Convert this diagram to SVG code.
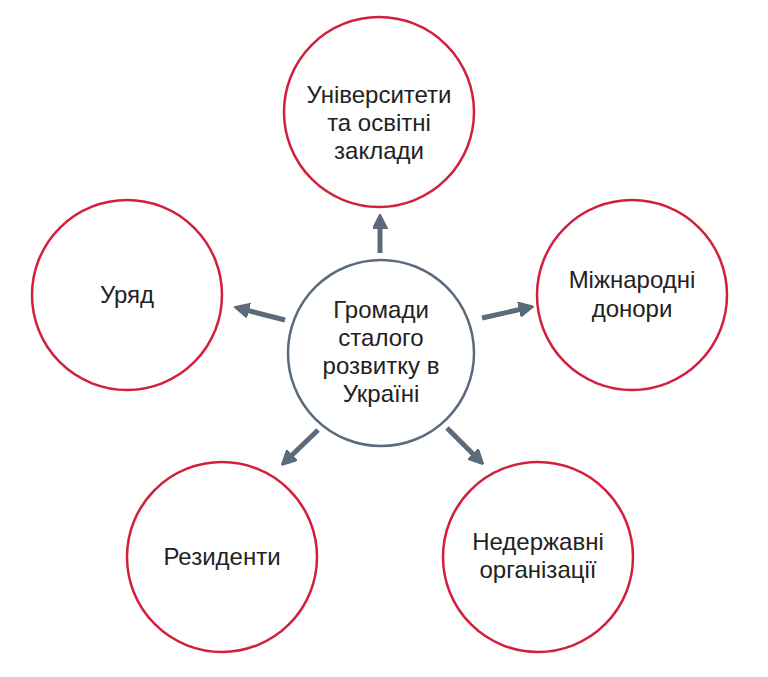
<svg xmlns="http://www.w3.org/2000/svg" width="768" height="677" viewBox="0 0 768 677">
<defs>
<style>
.outer{fill:#fff;stroke:#d21f3c;stroke-width:2.5}
.center{fill:#fff;stroke:#5b6b7b;stroke-width:2.5}
.lbl{font-family:"Liberation Sans",Arial,sans-serif;font-size:24px;fill:#222;text-anchor:middle}
.conn{stroke:#5b6b7b;stroke-width:5;fill:none;marker-end:url(#ah)}
</style>
<marker id="ah" viewBox="0 0 10 10" refX="2" refY="5" markerUnits="userSpaceOnUse" markerWidth="15" markerHeight="15" orient="auto">
<path d="M0,0 L10,5 L0,10 Z" fill="#5b6b7b" stroke="#5b6b7b" stroke-width="1" stroke-linejoin="round"/>
</marker>
</defs>
<rect width="768" height="677" fill="#fff"/>
<g id="connectors">
<line class="conn" x1="380" y1="253" x2="380" y2="226"/>
<line class="conn" x1="285" y1="320" x2="246" y2="310"/>
<line class="conn" x1="482" y1="318" x2="522" y2="309"/>
<line class="conn" x1="318" y1="430" x2="290" y2="457"/>
<line class="conn" x1="447" y1="428" x2="475" y2="456"/>
</g>
<g id="node-center">
<circle class="center" cx="381" cy="353" r="93"/>
<text class="lbl" x="381" y="318">Громади</text>
<text class="lbl" x="381" y="346">сталого</text>
<text class="lbl" x="381" y="374">розвитку в</text>
<text class="lbl" x="381" y="402">Україні</text>
</g>
<g id="node-universities">
<circle class="outer" cx="379" cy="112" r="95"/>
<text class="lbl" x="379" y="103">Університети</text>
<text class="lbl" x="379" y="131">та освітні</text>
<text class="lbl" x="379" y="159">заклади</text>
</g>
<g id="node-government">
<circle class="outer" cx="127" cy="295" r="95"/>
<text class="lbl" x="127" y="303">Уряд</text>
</g>
<g id="node-donors">
<circle class="outer" cx="632" cy="295" r="95"/>
<text class="lbl" x="632" y="288">Міжнародні</text>
<text class="lbl" x="632" y="317">донори</text>
</g>
<g id="node-residents">
<circle class="outer" cx="222" cy="557" r="95"/>
<text class="lbl" x="222" y="565">Резиденти</text>
</g>
<g id="node-ngo">
<circle class="outer" cx="538" cy="557" r="95"/>
<text class="lbl" x="538" y="550">Недержавні</text>
<text class="lbl" x="538" y="578">організації</text>
</g>
</svg>
